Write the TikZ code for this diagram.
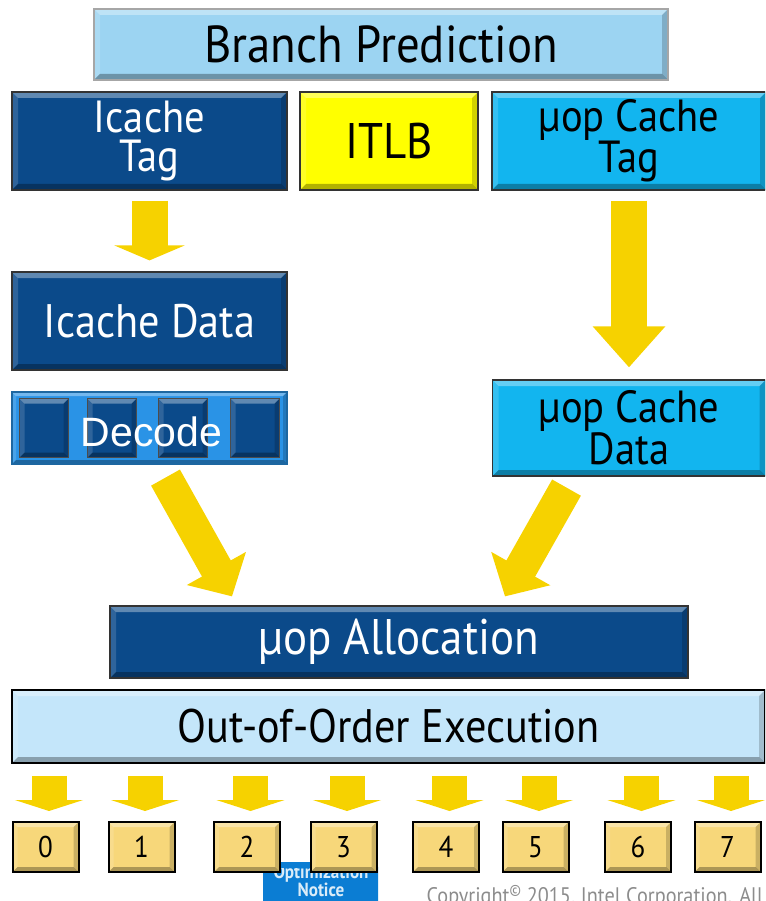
\documentclass[tikz,border=0pt]{standalone}
\usepackage{fontspec}
\setmainfont{PT Sans}[FakeStretch=0.9]
\newfontfamily\arialface{Liberation Sans}
\usetikzlibrary{arrows.meta}

\definecolor{bpblue}{HTML}{9CD4F2}
\definecolor{deepblue}{HTML}{0B4A8A}
\definecolor{skyblue}{HTML}{12B5EF}
\definecolor{tlbyellow}{HTML}{FFFF00}
\definecolor{decblue}{HTML}{2A93E6}
\definecolor{oooblue}{HTML}{C4E6FA}
\definecolor{portgold}{HTML}{F7D77A}
\definecolor{flowyellow}{HTML}{F6D200}
\definecolor{noteblue}{HTML}{0B7DD3}

\newcommand{\fsz}[1]{\fontsize{#1}{0.86\dimexpr#1pt\relax}\selectfont}

\tikzset{
  bevel/.style={path picture={
    \path (path picture bounding box.north west) coordinate (bnw)
          (path picture bounding box.north east) coordinate (bne)
          (path picture bounding box.south west) coordinate (bsw)
          (path picture bounding box.south east) coordinate (bse);
    \fill[white,opacity=.35] (bnw) -- (bne) -- ([shift={(-#1,-#1)}]bne) -- ([shift={(#1,-#1)}]bnw) -- cycle;
    \fill[white,opacity=.15] (bnw) -- ([shift={(#1,-#1)}]bnw) -- ([shift={(#1,#1)}]bsw) -- (bsw) -- cycle;
    \fill[black,opacity=.30] (bsw) -- (bse) -- ([shift={(-#1,#1)}]bse) -- ([shift={(#1,#1)}]bsw) -- cycle;
    \fill[black,opacity=.18] (bne) -- (bse) -- ([shift={(-#1,#1)}]bse) -- ([shift={(-#1,-#1)}]bne) -- cycle;
  }},
  bevel/.default=6pt,
  unit/.style={draw=black!80, line width=1.2pt, inner sep=0pt, align=center, bevel},
  darkunit/.style={unit, fill=deepblue, text=white},
  cyanunit/.style={unit, fill=skyblue, text=black},
  slot/.style={draw=black!70, line width=1pt, fill=deepblue, bevel=5pt, minimum width=49pt, minimum height=59pt},
  port/.style={unit, fill=portgold, line width=2pt, draw=black, bevel=5pt, minimum width=66pt, minimum height=50pt, font=\fsz{30}},
  flow/.style={draw=flowyellow, line width=36pt, -{Triangle[length=#1, width=70pt]}},
  slant/.style={draw=flowyellow, line width=33pt, -{Triangle[length=32pt, width=66pt]}},
}

\begin{document}
\begin{tikzpicture}[x=1pt, y=-1pt]
\useasboundingbox (0,0) rectangle (765,901);
\clip (0,0) rectangle (765,901);

% front end
\node[unit, draw=black!35, fill=bpblue, minimum width=574pt, minimum height=71pt, font=\fsz{52}] (bp) at (381,44.5) {Branch Prediction};
\node[darkunit, minimum width=275pt, minimum height=98pt, font=\fsz{45}] (ictag) at (149.5,141) {Icache\\Tag};
\node[unit, fill=tlbyellow, minimum width=178pt, minimum height=98pt, font=\fsz{50}] (itlb) at (389,141) {ITLB};
\node[cyanunit, minimum width=274pt, minimum height=98pt, font=\fsz{45}] (uctag) at (629,141) {µop Cache\\Tag};

\node[darkunit, minimum width=275pt, minimum height=98pt, font=\fsz{47}] (icdata) at (149.5,321) {Icache Data};

\node[unit, draw=decblue!70!black, fill=decblue, bevel=4pt, minimum width=275pt, minimum height=72pt] (decode) at (149.5,428) {};
\foreach \dx [count=\k] in {-105.5,-37.5,33.5,105.5}
  \node[slot] (slot\k) at ([xshift=\dx pt]decode.center) {};
\node[text=white, font=\arialface\fsz{41}] (declabel) at ([xshift=2pt,yshift=-4pt]decode.center) {Decode};

\node[cyanunit, minimum width=273pt, minimum height=96pt, font=\fsz{45}] (ucdata) at (629,428) {µop Cache\\Data};

% back end
\node[darkunit, minimum width=578pt, minimum height=72pt, font=\fsz{50}] (alloc) at (399,642) {µop Allocation};
\node[unit, draw=black, line width=1.6pt, fill=oooblue, minimum width=753pt, minimum height=73pt, font=\fsz{47}] (ooo) at (388.5,726.5) {Out-of-Order Execution};

% flow arrows
\draw[flow=15pt, shorten <=10pt, shorten >=11pt] (ictag.south) -- (icdata.north);
\draw[flow=41pt, shorten <=10pt, shorten >=12pt] (uctag.south) -- (ucdata.north);
\draw[slant] ([xshift=16pt,yshift=-13pt]decode.south) -- ([xshift=-167pt,yshift=9pt]alloc.north);
\draw[slant] ([xshift=-62.5pt,yshift=-11pt]ucdata.south) -- ([xshift=106pt,yshift=9pt]alloc.north);

% notice
\node[fill=noteblue, rounded corners=5pt, minimum width=115pt, minimum height=46pt] (note) at (320.5,885) {};
\begin{scope}
  \clip (250,868) rectangle (400,901);
  \node[text=white!85!noteblue, font=\bfseries\fontsize{19}{18}\selectfont, align=center] (notetext) at (321,881) {Optimization\\Notice};
\end{scope}

% execution ports
\foreach \i/\x in {0/45.5, 1/141.5, 2/247, 3/343.5, 4/446, 5/535.5, 6/638, 7/727.5} {
  \node[port] (p\i) at (\x,847) {\i};
  \draw[draw=flowyellow, line width=35pt, -{Triangle[length=11pt, width=68pt]}, shorten <=12pt, shorten >=10pt]
    ([xshift=3.5pt]p\i.north |- ooo.south) -- ([xshift=3.5pt]p\i.north);
}

\node[anchor=base west, text=black!45, font=\fsz{22.5}] (copyr) at (423,903) {Copyright\textsuperscript{©} 2015, Intel Corporation. All};
\end{tikzpicture}
\end{document}
